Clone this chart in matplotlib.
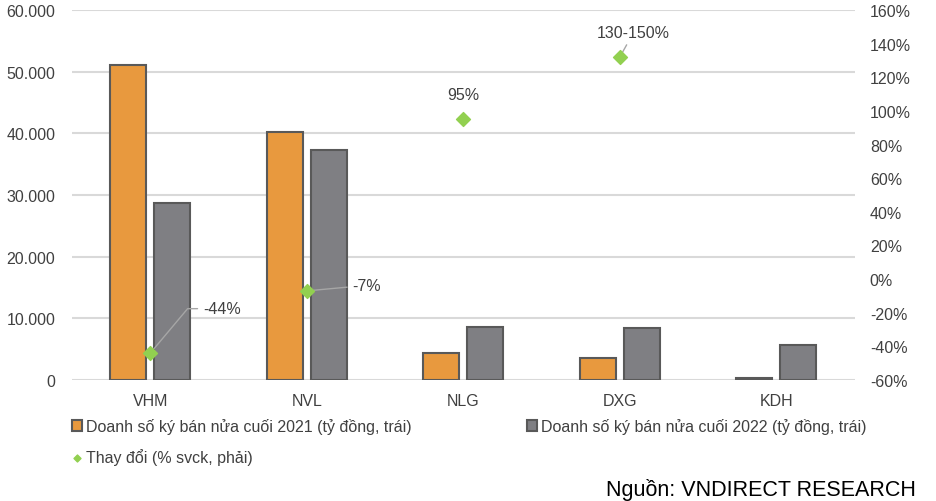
import numpy as np
import matplotlib.pyplot as plt
from matplotlib.ticker import FuncFormatter, FixedLocator

plt.rcParams['font.family'] = ['Liberation Sans', 'DejaVu Sans']

companies = ['VHM', 'NVL', 'NLG', 'DXG', 'KDH']
sales_2021 = [51100, 40200, 4400, 3600, 300]
sales_2022 = [28700, 37300, 8600, 8400, 5700]
change_pct = [-44, -7, 95, 132]
change_labels = ['-44%', '-7%', '95%', '130-150%']

label_2021 = 'Doanh số ký bán nửa cuối 2021 (tỷ đồng, trái)'
label_2022 = 'Doanh số ký bán nửa cuối 2022 (tỷ đồng, trái)'
label_change = 'Thay đổi (% svck, phải)'

ORANGE = '#E8993E'
GRAY = '#7F7F83'
EDGE = '#595959'
GREEN = '#92D050'
TXT = '#404040'
FS = 11.5

fig = plt.figure(figsize=(9.36, 5.02), dpi=100)
ax = fig.add_axes([0.077, 0.241, 0.836, 0.737])
ax2 = ax.twinx()

x = np.arange(len(companies))
w = 0.23
b1 = ax.bar(x - 0.14, sales_2021, w, color=ORANGE, edgecolor=EDGE, linewidth=1.5,
            label=label_2021, zorder=3)
b2 = ax.bar(x + 0.14, sales_2022, w, color=GRAY, edgecolor=EDGE, linewidth=1.5,
            label=label_2022, zorder=3)

ax.set_xlim(-0.5, len(companies) - 0.5)
ax.set_ylim(0, 60000)
ax.set_yticks(np.arange(0, 60001, 10000))
ax.yaxis.set_major_formatter(FuncFormatter(lambda v, p: f'{int(v):,}'.replace(',', '.')))
ax.grid(axis='y', color='#D9D9D9', linewidth=1.5, zorder=0)
ax.set_axisbelow(True)
ax.set_xticks(x)
ax.set_xticklabels(companies)
ax.tick_params(length=0, labelsize=FS, colors=TXT)
ax.tick_params(axis='x', pad=9)
ax.tick_params(axis='y', pad=12)
for sp in ax.spines.values():
    sp.set_visible(False)

sc = ax2.scatter(x[:len(change_pct)], change_pct, marker='D', s=50, color=GREEN,
                 zorder=5, label=label_change)
ax2.set_ylim(-60, 160)
ax2.yaxis.set_major_locator(FixedLocator(np.arange(-60, 161, 20)))
ax2.yaxis.set_major_formatter(FuncFormatter(lambda v, p: f'{int(v)}%'))
ax2.tick_params(length=0, labelsize=FS, colors=TXT, pad=11)
for sp in ax2.spines.values():
    sp.set_visible(False)

line_kw = dict(arrowstyle='-', color='#A6A6A6', lw=1, shrinkA=2, shrinkB=3)
ax2.annotate(change_labels[0], (x[0], change_pct[0]), xytext=(38, 32),
             textcoords='offset points', ha='left', va='center', fontsize=FS, color=TXT,
             arrowprops=dict(connectionstyle='angle,angleA=180,angleB=50,rad=0',
                             **line_kw))
ax2.annotate(change_labels[1], (x[1], change_pct[1]), xytext=(33, 4),
             textcoords='offset points', ha='left', va='center', fontsize=FS, color=TXT,
             arrowprops=dict(connectionstyle='arc3', **line_kw))
ax2.annotate(change_labels[2], (x[2], change_pct[2]), xytext=(0, 18),
             textcoords='offset points', ha='center', va='center', fontsize=FS, color=TXT)
ax2.annotate(change_labels[3], (x[3], change_pct[3]), xytext=(10, 18),
             textcoords='offset points', ha='center', va='center', fontsize=FS, color=TXT,
             arrowprops=dict(connectionstyle='arc3', **line_kw))

leg = fig.legend([b1, sc, b2], [label_2021, label_change, label_2022], ncol=2,
                 loc='upper left', bbox_to_anchor=(0.077, 0.165), frameon=False,
                 fontsize=FS, handlelength=0.6, handleheight=0.6, handletextpad=0.3,
                 columnspacing=7.2, labelspacing=0.85, borderaxespad=0, borderpad=0,
                 markerscale=0.5)
for t in leg.get_texts():
    t.set_color(TXT)

fig.text(0.978, 0.024, 'Nguồn: VNDIRECT RESEARCH', ha='right', va='center',
         fontsize=15.5, color='#000000')

fig.savefig('out.png', dpi=100)
